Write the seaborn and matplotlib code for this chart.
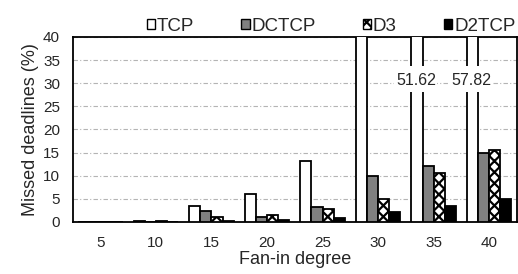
import numpy as np
import pandas as pd
import matplotlib
matplotlib.use('Agg')
import matplotlib.pyplot as plt
from matplotlib.patches import Rectangle
import seaborn as sns

fan_in = ['5', '10', '15', '20', '25', '30', '35', '40']
tcp = [0.0, 0.3, 3.5, 6.0, 13.2, 42.0, 51.62, 57.82]
dctcp = [0.0, 0.0, 2.4, 1.1, 3.3, 10.0, 12.2, 14.9]
d3 = [0.0, 0.1, 1.1, 1.4, 2.8, 4.9, 10.5, 15.6]
d2tcp = [0.0, 0.0, 0.2, 0.5, 0.8, 2.2, 3.4, 5.0]
protocols = ['TCP', 'DCTCP', 'D3', 'D2TCP']
labelled = {'35': 51.62, '40': 57.82}

df = pd.DataFrame({'Fan-in degree': fan_in * 4,
                   'value': tcp + dctcp + d3 + d2tcp,
                   'protocol': np.repeat(protocols, len(fan_in))})

sns.set_style('white')
plt.rcParams['font.family'] = ['Liberation Sans', 'DejaVu Sans']
plt.rcParams['hatch.linewidth'] = 1.6

fig, ax = plt.subplots(figsize=(5.18, 2.74), dpi=100)
colors = ['white', '#808080', 'white', 'black']
sns.barplot(data=df, x='Fan-in degree', y='value', hue='protocol',
            palette=colors, width=0.8, gap=0, edgecolor='black',
            linewidth=1.3, ax=ax, zorder=3)

hatches = ['', '', 'xxx', '']
for cont, h in zip(ax.containers, hatches):
    for bar in cont:
        bar.set_hatch(h)

ax.set_ylim(0, 40)
ax.set_yticks(range(0, 41, 5))
ax.yaxis.grid(True, color='#b4b4b4', linestyle=(0, (4, 2, 1, 2)), linewidth=0.8, zorder=0)
ax.set_axisbelow(True)
for s in ax.spines.values():
    s.set_color('black')
    s.set_linewidth(1.3)

# broken TCP bars with value labels
for bar, x in zip(ax.containers[0], fan_in):
    if x in labelled:
        xc = bar.get_x() + bar.get_width() / 2
        ax.add_patch(Rectangle((bar.get_x() - 0.02, 28.2), bar.get_width() + 0.04, 5.6,
                               facecolor='white', edgecolor='none', zorder=4))
        ax.text(xc - 0.02, 30.6, f'{labelled[x]:.2f}',
                ha='center', va='center', fontsize=11.5, zorder=5,
                bbox=dict(facecolor='white', edgecolor='none', pad=1))

ax.set_xlabel('Fan-in degree', fontsize=13, labelpad=1)
ax.set_ylabel('Missed deadlines (%)', fontsize=13, labelpad=3)
ax.tick_params(axis='both', labelsize=11, length=0)
ax.tick_params(axis='y', pad=9)
ax.tick_params(axis='x', pad=10)

handles, labels = ax.get_legend_handles_labels()
for hd, h in zip(handles, hatches):
    hd.set_hatch(h)
    hd.set_linewidth(1.0)
ax.legend(handles, labels, ncol=4, loc='lower right', bbox_to_anchor=(1.005, 0.99),
          frameon=False, fontsize=13.5, handlelength=0.45, handleheight=0.45,
          handletextpad=0.1, columnspacing=2.5, borderaxespad=0.1, borderpad=0.1)

fig.subplots_adjust(left=0.14, right=0.998, top=0.865, bottom=0.19)
fig.savefig('out.png', dpi=100)
